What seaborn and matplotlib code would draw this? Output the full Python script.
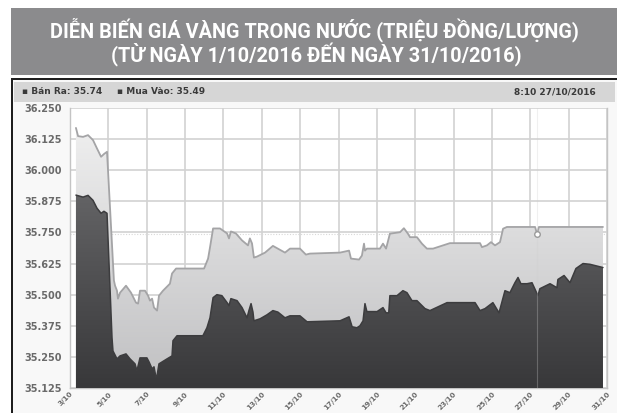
import numpy as np
import pandas as pd
import matplotlib
matplotlib.use("Agg")
import matplotlib.pyplot as plt
from matplotlib.patches import Rectangle
import seaborn as sns

# values (x = day of October, y = million VND / tael)
sell_day = [3.31, 3.42, 3.68, 3.94, 4.20, 4.41, 4.62, 4.77, 4.93, 5.29, 5.35, 5.45, 5.50, 5.61,
            5.92, 6.18, 6.44, 6.55, 6.65, 6.91, 7.07, 7.17, 7.28, 7.38, 7.54, 7.64, 7.85, 8.21,
            8.32, 8.53, 9.99, 10.20, 10.30, 10.46, 10.82, 11.19, 11.29, 11.39, 11.65, 11.97,
            12.28, 12.38, 12.49, 12.59, 12.75, 13.17, 13.58, 14.21, 14.47, 14.99, 15.30, 15.51,
            17.08, 17.55, 17.65, 18.07, 18.22, 18.33, 18.38, 18.48, 19.16, 19.32, 19.48, 19.68,
            20.21, 20.41, 20.62, 20.73, 21.09, 21.35, 21.61, 21.93, 22.45, 22.81, 24.38, 24.48,
            24.74, 24.95, 25.16, 25.42, 25.58, 25.78, 27.25, 27.35, 27.45, 30.79]
sell_val = [36.170, 36.137, 36.134, 36.141, 36.121, 36.087, 36.054, 36.065, 36.074, 35.557,
            35.536, 35.516, 35.484, 35.508, 35.536, 35.508, 35.468, 35.464, 35.516, 35.516,
            35.496, 35.476, 35.484, 35.448, 35.436, 35.496, 35.516, 35.544, 35.585, 35.605,
            35.605, 35.645, 35.690, 35.766, 35.766, 35.746, 35.726, 35.754, 35.746, 35.718,
            35.698, 35.726, 35.706, 35.649, 35.653, 35.669, 35.696, 35.669, 35.685, 35.685,
            35.661, 35.665, 35.669, 35.677, 35.645, 35.641, 35.657, 35.705, 35.677, 35.685,
            35.685, 35.705, 35.685, 35.745, 35.751, 35.767, 35.745, 35.731, 35.731, 35.705,
            35.685, 35.685, 35.698, 35.707, 35.707, 35.691, 35.698, 35.711, 35.698, 35.711,
            35.765, 35.772, 35.772, 35.745, 35.772, 35.772]

buy_day = [3.31, 3.68, 3.94, 4.20, 4.41, 4.62, 4.77, 4.93, 5.19, 5.24, 5.45, 5.61, 5.92, 6.13,
           6.39, 6.49, 6.65, 7.01, 7.12, 7.28, 7.38, 7.48, 7.54, 7.64, 8.06, 8.32, 8.37, 8.58,
           9.93, 10.14, 10.30, 10.46, 10.66, 10.92, 11.19, 11.29, 11.39, 11.71, 11.97, 12.23,
           12.33, 12.44, 12.54, 12.59, 12.91, 13.27, 13.58, 13.84, 14.21, 14.47, 14.99, 15.36,
           17.08, 17.55, 17.71, 17.96, 18.12, 18.28, 18.38, 18.48, 19.01, 19.32, 19.48, 19.62,
           19.68, 20.05, 20.36, 20.57, 20.83, 21.09, 21.51, 21.77, 22.66, 24.12, 24.38, 24.64,
           25.05, 25.37, 25.68, 25.94, 26.20, 26.36, 26.51, 26.83, 27.09, 27.40, 27.50, 28.03,
           28.39, 28.44, 28.76, 29.07, 29.38, 29.75, 30.11, 30.79]
buy_val = [35.900, 35.892, 35.899, 35.879, 35.847, 35.827, 35.835, 35.827, 35.327, 35.274,
           35.242, 35.254, 35.262, 35.242, 35.222, 35.194, 35.246, 35.246, 35.230, 35.202,
           35.210, 35.169, 35.175, 35.222, 35.242, 35.254, 35.315, 35.335, 35.335, 35.367,
           35.407, 35.488, 35.500, 35.496, 35.468, 35.456, 35.484, 35.476, 35.448, 35.407,
           35.436, 35.464, 35.430, 35.395, 35.403, 35.419, 35.436, 35.430, 35.407, 35.415,
           35.415, 35.391, 35.395, 35.411, 35.371, 35.367, 35.375, 35.395, 35.464, 35.432,
           35.432, 35.448, 35.427, 35.427, 35.496, 35.496, 35.516, 35.508, 35.476, 35.476,
           35.444, 35.436, 35.468, 35.468, 35.436, 35.444, 35.468, 35.427, 35.516, 35.508,
           35.548, 35.569, 35.544, 35.544, 35.548, 35.496, 35.524, 35.544, 35.528, 35.561,
           35.577, 35.548, 35.605, 35.625, 35.622, 35.609]

x_ticks = list(range(3, 32, 2))
x_labels = [f"{d}/10" for d in x_ticks]
y_ticks = [35.125, 35.25, 35.375, 35.5, 35.625, 35.75, 35.875, 36.0, 36.125, 36.25]

title_1 = "DIỄN BIẾN GIÁ VÀNG TRONG NƯỚC (TRIỆU ĐỒNG/LƯỢNG)"
title_2 = "(TỪ NGÀY 1/10/2016 ĐẾN NGÀY 31/10/2016)"

sns.set_style("white")
plt.rcParams['font.family'] = ['DejaVu Sans']

W, H = 617, 413
fig = plt.figure(figsize=(W / 100, H / 100), dpi=100)
fig.patch.set_facecolor("white")


def box(x0, y0, x1, y1, color):
    # pixel box, top-left origin
    fig.patches.append(Rectangle((x0 / W, 1 - y1 / H), (x1 - x0) / W, (y1 - y0) / H,
                                 transform=fig.transFigure, facecolor=color,
                                 edgecolor="none", zorder=-5))


box(11, 8, 617, 75, "#8b8b8d")
box(13, 80, 617, 413, "#f8f8f8")
box(11, 78, 617, 80, "#1e1e1e")
box(11, 78, 13, 413, "#1e1e1e")
box(14, 82, 615, 102, "#d6d6d6")

title_font = ['Roboto', 'DejaVu Sans']
fig.text(314 / W, 1 - 37 / H, title_1, color="white", fontsize=14.3, fontweight="bold",
         family=title_font, ha="center", va="baseline")
fig.text(316 / W, 1 - 62 / H, title_2, color="white", fontsize=14.3, fontweight="bold",
         family=title_font, ha="center", va="baseline")

fig.text(22 / W, 1 - 92 / H, "▪ Bán Ra: 35.74", color="#3a3a3a", fontsize=6.5,
         fontweight="bold", ha="left", va="center")
fig.text(117 / W, 1 - 92 / H, "▪ Mua Vào: 35.49", color="#3a3a3a", fontsize=6.5,
         fontweight="bold", ha="left", va="center")
fig.text(596 / W, 1 - 92 / H, "8:10 27/10/2016", color="#3a3a3a", fontsize=6.5,
         fontweight="bold", ha="right", va="center")

ax = fig.add_axes([70 / W, 25 / H, 537 / W, 280 / H])
ax.set_facecolor("white")
ax.set_xlim(3, 31)
ax.set_ylim(35.125, 36.25)

ybot = 35.125
grad = np.linspace(0, 1, 256).reshape(-1, 1)

# sell area (light, gradient)
poly_s = ax.fill_between(sell_day, sell_val, ybot, facecolor="none", edgecolor="none", zorder=2)
img_s = ax.imshow(grad, extent=[3, 31, ybot, 36.25], origin="lower", aspect="auto",
                  cmap=matplotlib.colors.LinearSegmentedColormap.from_list("s", ["#c0c0c2", "#f2f2f2"]),
                  zorder=2)
img_s.set_clip_path(poly_s.get_paths()[0], transform=ax.transData)

# buy area (dark, gradient)
poly_b = ax.fill_between(buy_day, buy_val, ybot, facecolor="none", edgecolor="none", zorder=3)
img_b = ax.imshow(grad, extent=[3, 31, ybot, 36.25], origin="lower", aspect="auto",
                  cmap=matplotlib.colors.LinearSegmentedColormap.from_list("b", ["#38383a", "#767678"]),
                  zorder=3)
img_b.set_clip_path(poly_b.get_paths()[0], transform=ax.transData)
ax.set_xlim(3, 31)
ax.set_ylim(35.125, 36.25)

sell_df = pd.DataFrame({"day": sell_day, "price": sell_val})
buy_df = pd.DataFrame({"day": buy_day, "price": buy_val})
sns.lineplot(data=sell_df, x="day", y="price", ax=ax, color="#a4a4a6", lw=1.3,
             sort=False, estimator=None, zorder=4)
sns.lineplot(data=buy_df, x="day", y="price", ax=ax, color="#3c3c3e", lw=1.1,
             sort=False, estimator=None, zorder=4)

# crosshair at 27/10 8:10
ax.axvline(27.35, color="#cfcfcf", lw=0.8, zorder=5, alpha=0.3)
ax.axhline(35.745, color="#d8d8d8", lw=0.8, ls=(0, (1, 1.5)), zorder=1.5)
ax.plot([27.35], [35.745], marker="o", ms=4, mfc="white", mec="#9a9a9a", mew=1, zorder=6)

ax.set_xticks(x_ticks)
ax.set_xticklabels(x_labels, rotation=45, ha="right", va="top", rotation_mode="anchor",
                   fontsize=5.2, color="#6a6a6a", fontweight="bold")
ax.set_yticks(y_ticks)
ax.set_yticklabels([f"{v:.3f}" for v in y_ticks], fontsize=7, color="#6a6a6a", fontweight="bold")
ax.grid(True, color="#d2d2d2", lw=1.2, zorder=1)
ax.set_axisbelow(True)
ax.tick_params(axis="y", length=4, width=0.8, color="#c8c8c8", pad=2)
ax.tick_params(axis="x", length=2, width=0.8, color="#c8c8c8", pad=0)
for s in ax.spines.values():
    s.set_color("#c4c4c4")
    s.set_linewidth(1.0)
ax.spines["top"].set_visible(False)
ax.set_xlabel("")
ax.set_ylabel("")

fig.savefig("out.png", dpi=100)
